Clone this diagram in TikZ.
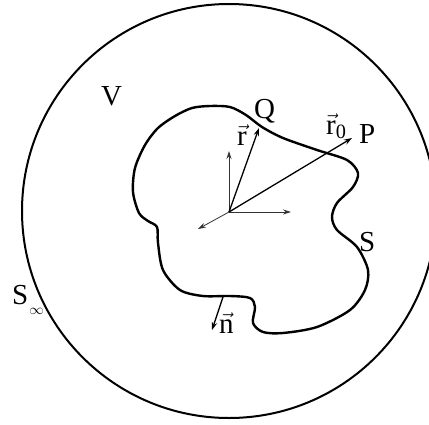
\documentclass[tikz,border=0pt]{standalone}
\usepackage{amsmath}
\usepackage{fontspec}
\setmainfont{Liberation Serif}
\usetikzlibrary{arrows.meta}
\begin{document}
\begin{tikzpicture}[x=1pt,y=-1pt,
  lbl/.style={inner sep=0pt, anchor=base west, font=\fontsize{29}{34}\selectfont},
  vecarrow/.style={line width=1.3pt, -{Stealth[length=8pt,width=5.5pt]}},
  axisarrow/.style={line width=0.8pt, draw=black!80, -{Stealth[length=8pt,width=5pt]}},
  surface/.style={line width=2.4pt, line join=round},
  sphere/.style={line width=2pt}]
\useasboundingbox (0,0) rectangle (429,424);
\clip (0,0) rectangle (429,424);
% outer sphere
\draw[sphere] (229,211) circle[radius=207pt];
% surface S
\draw[surface] plot[smooth cycle, tension=0.5] coordinates {
 (210,106) (230,107) (246,115) (262,127) (283,138) (317,150) (347,160) (358,173)
 (353,187) (337,203) (332,217) (337,230) (357,247) (368,270) (365,290)
 (350,310) (317,327) (283,333) (263,332) (253,323) (255,307) (250,298)
 (230,296) (203,296) (180,290) (163,270) (158,243) (157,227) (148,221)
 (139,213) (133,192) (135,168) (145,145) (158,128) (175,116) (192,108)};
% axes and vectors
\coordinate (O) at (229,212);
\coordinate (ex) at (291,212);
\coordinate (ey) at (229,151);
\coordinate (ez) at (198,229);
\coordinate (Qp) at (259,128);
\coordinate (Pp) at (352,138);
\coordinate (n1) at (223,297);
\coordinate (n2) at (212,330);
\draw[axisarrow] (O) -- (ex);
\draw[axisarrow] (O) -- (ey);
\draw[axisarrow] (O) -- (ez);
\draw[vecarrow] (O) -- (Qp);
\draw[vecarrow] (O) -- (Pp);
\draw[vecarrow] (n1) -- (n2);
% labels
\node[lbl] (V) at (101,105) {V};
\node[lbl] (Q) at (254,118) {Q};
\node[lbl] (r) at (237,145) {$\vec{\text{r}}$};
\node[lbl] (r0) at (326,134) {$\vec{\text{r}}_{\text{0}}$};
\node[lbl] (P) at (359,143) {P};
\node[lbl] (S) at (359,251) {S};
\node[lbl] (Sinf) at (12,304) {S\kern1pt\raisebox{-10pt}{\fontsize{15}{15}\selectfont$\infty$}};
\node[lbl] (n) at (219,333) {$\vec{\text{n}}$};
\end{tikzpicture}
\end{document}
